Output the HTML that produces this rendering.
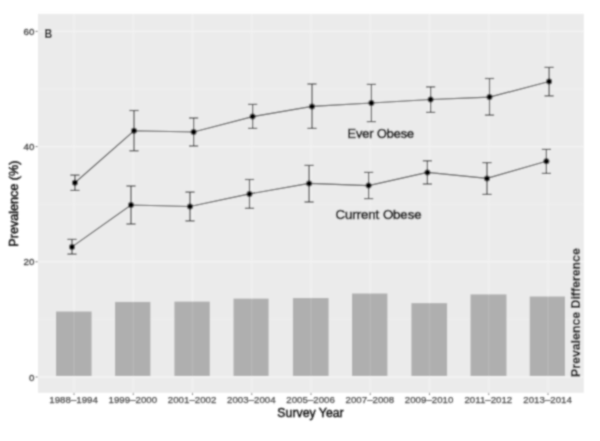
<!DOCTYPE html>
<html><head><meta charset="utf-8"><style>
html,body{margin:0;padding:0;background:#fff;width:600px;height:441px;overflow:hidden}
svg{display:block;font-family:"Liberation Sans",sans-serif}
</style></head><body>
<svg width="600" height="441" viewBox="0 0 600 441">
<defs><filter id="bl" x="-5%" y="-5%" width="110%" height="110%"><feConvolveMatrix order="5" kernelMatrix="0.00048 0.00501 0.01095 0.00501 0.00048 0.00501 0.05222 0.11405 0.05222 0.00501 0.01095 0.11405 0.24912 0.11405 0.01095 0.00501 0.05222 0.11405 0.05222 0.00501 0.00048 0.00501 0.01095 0.00501 0.00048" divisor="1" edgeMode="duplicate"/></filter></defs>
<rect width="600" height="441" fill="#fff"/>
<g filter="url(#bl)">
<rect x="38.0" y="13.9" width="545.8" height="378.90000000000003" fill="#EBEBEB"/>
<line x1="38.0" x2="583.8" y1="319.4" y2="319.4" stroke="#EFEFEF" stroke-width="1"/>
<line x1="38.0" x2="583.8" y1="204.2" y2="204.2" stroke="#EFEFEF" stroke-width="1"/>
<line x1="38.0" x2="583.8" y1="89.0" y2="89.0" stroke="#EFEFEF" stroke-width="1"/>
<line x1="38.0" x2="583.8" y1="377.0" y2="377.0" stroke="#F4F4F4" stroke-width="1.4"/>
<line x1="38.0" x2="583.8" y1="261.8" y2="261.8" stroke="#F4F4F4" stroke-width="1.4"/>
<line x1="38.0" x2="583.8" y1="146.6" y2="146.6" stroke="#F4F4F4" stroke-width="1.4"/>
<line x1="38.0" x2="583.8" y1="31.399999999999977" y2="31.399999999999977" stroke="#F4F4F4" stroke-width="1.4"/>
<line x1="74.0" x2="74.0" y1="13.9" y2="392.8" stroke="#F2F2F2" stroke-width="1.4"/>
<line x1="133.25" x2="133.25" y1="13.9" y2="392.8" stroke="#F2F2F2" stroke-width="1.4"/>
<line x1="192.5" x2="192.5" y1="13.9" y2="392.8" stroke="#F2F2F2" stroke-width="1.4"/>
<line x1="251.75" x2="251.75" y1="13.9" y2="392.8" stroke="#F2F2F2" stroke-width="1.4"/>
<line x1="311.0" x2="311.0" y1="13.9" y2="392.8" stroke="#F2F2F2" stroke-width="1.4"/>
<line x1="370.25" x2="370.25" y1="13.9" y2="392.8" stroke="#F2F2F2" stroke-width="1.4"/>
<line x1="429.5" x2="429.5" y1="13.9" y2="392.8" stroke="#F2F2F2" stroke-width="1.4"/>
<line x1="488.75" x2="488.75" y1="13.9" y2="392.8" stroke="#F2F2F2" stroke-width="1.4"/>
<line x1="548.0" x2="548.0" y1="13.9" y2="392.8" stroke="#F2F2F2" stroke-width="1.4"/>
<rect x="56" y="311.5" width="35.599999999999994" height="64.5" fill="#AFAFAF"/>
<rect x="115" y="301.9" width="35.400000000000006" height="74.10000000000002" fill="#AFAFAF"/>
<rect x="174.4" y="301.6" width="35.400000000000006" height="74.39999999999998" fill="#AFAFAF"/>
<rect x="233.5" y="298.6" width="35.10000000000002" height="77.39999999999998" fill="#AFAFAF"/>
<rect x="292.9" y="298" width="35.700000000000045" height="78" fill="#AFAFAF"/>
<rect x="352" y="293.5" width="35.39999999999998" height="82.5" fill="#AFAFAF"/>
<rect x="411.4" y="303.1" width="35.700000000000045" height="72.89999999999998" fill="#AFAFAF"/>
<rect x="470.5" y="294.4" width="36.0" height="81.60000000000002" fill="#AFAFAF"/>
<rect x="529.7" y="296.5" width="35.299999999999955" height="79.5" fill="#AFAFAF"/>
<line x1="74.0" x2="74.0" y1="290" y2="376" stroke="#FFFFFF" stroke-opacity="0.12" stroke-width="1.3"/>
<line x1="133.25" x2="133.25" y1="290" y2="376" stroke="#FFFFFF" stroke-opacity="0.12" stroke-width="1.3"/>
<line x1="192.5" x2="192.5" y1="290" y2="376" stroke="#FFFFFF" stroke-opacity="0.12" stroke-width="1.3"/>
<line x1="251.75" x2="251.75" y1="290" y2="376" stroke="#FFFFFF" stroke-opacity="0.12" stroke-width="1.3"/>
<line x1="311.0" x2="311.0" y1="290" y2="376" stroke="#FFFFFF" stroke-opacity="0.12" stroke-width="1.3"/>
<line x1="370.25" x2="370.25" y1="290" y2="376" stroke="#FFFFFF" stroke-opacity="0.12" stroke-width="1.3"/>
<line x1="429.5" x2="429.5" y1="290" y2="376" stroke="#FFFFFF" stroke-opacity="0.12" stroke-width="1.3"/>
<line x1="488.75" x2="488.75" y1="290" y2="376" stroke="#FFFFFF" stroke-opacity="0.12" stroke-width="1.3"/>
<line x1="548.0" x2="548.0" y1="290" y2="376" stroke="#FFFFFF" stroke-opacity="0.12" stroke-width="1.3"/>
<polyline points="74.9,182.7 134,130.8 193.6,132 252.6,116.6 312,106.4 371.4,103 430.6,99.5 489.5,97.1 549.1,81.5" fill="none" stroke="#474747" stroke-width="1.15"/>
<line x1="74.9" x2="74.9" y1="175.1" y2="190.4" stroke="#3A3A3A" stroke-width="1.15"/>
<line x1="70.30000000000001" x2="79.5" y1="175.1" y2="175.1" stroke="#3A3A3A" stroke-width="1.15"/>
<line x1="70.30000000000001" x2="79.5" y1="190.4" y2="190.4" stroke="#3A3A3A" stroke-width="1.15"/>
<line x1="134" x2="134" y1="110.5" y2="150.8" stroke="#3A3A3A" stroke-width="1.15"/>
<line x1="129.4" x2="138.6" y1="110.5" y2="110.5" stroke="#3A3A3A" stroke-width="1.15"/>
<line x1="129.4" x2="138.6" y1="150.8" y2="150.8" stroke="#3A3A3A" stroke-width="1.15"/>
<line x1="193.6" x2="193.6" y1="118" y2="146" stroke="#3A3A3A" stroke-width="1.15"/>
<line x1="189.0" x2="198.2" y1="118" y2="118" stroke="#3A3A3A" stroke-width="1.15"/>
<line x1="189.0" x2="198.2" y1="146" y2="146" stroke="#3A3A3A" stroke-width="1.15"/>
<line x1="252.6" x2="252.6" y1="104.4" y2="128.4" stroke="#3A3A3A" stroke-width="1.15"/>
<line x1="248.0" x2="257.2" y1="104.4" y2="104.4" stroke="#3A3A3A" stroke-width="1.15"/>
<line x1="248.0" x2="257.2" y1="128.4" y2="128.4" stroke="#3A3A3A" stroke-width="1.15"/>
<line x1="312" x2="312" y1="84" y2="128.4" stroke="#3A3A3A" stroke-width="1.15"/>
<line x1="307.4" x2="316.6" y1="84" y2="84" stroke="#3A3A3A" stroke-width="1.15"/>
<line x1="307.4" x2="316.6" y1="128.4" y2="128.4" stroke="#3A3A3A" stroke-width="1.15"/>
<line x1="371.4" x2="371.4" y1="84.4" y2="121.6" stroke="#3A3A3A" stroke-width="1.15"/>
<line x1="366.79999999999995" x2="376.0" y1="84.4" y2="84.4" stroke="#3A3A3A" stroke-width="1.15"/>
<line x1="366.79999999999995" x2="376.0" y1="121.6" y2="121.6" stroke="#3A3A3A" stroke-width="1.15"/>
<line x1="430.6" x2="430.6" y1="86.9" y2="112.4" stroke="#3A3A3A" stroke-width="1.15"/>
<line x1="426.0" x2="435.20000000000005" y1="86.9" y2="86.9" stroke="#3A3A3A" stroke-width="1.15"/>
<line x1="426.0" x2="435.20000000000005" y1="112.4" y2="112.4" stroke="#3A3A3A" stroke-width="1.15"/>
<line x1="489.5" x2="489.5" y1="78.5" y2="115.1" stroke="#3A3A3A" stroke-width="1.15"/>
<line x1="484.9" x2="494.1" y1="78.5" y2="78.5" stroke="#3A3A3A" stroke-width="1.15"/>
<line x1="484.9" x2="494.1" y1="115.1" y2="115.1" stroke="#3A3A3A" stroke-width="1.15"/>
<line x1="549.1" x2="549.1" y1="67.4" y2="95.9" stroke="#3A3A3A" stroke-width="1.15"/>
<line x1="544.5" x2="553.7" y1="67.4" y2="67.4" stroke="#3A3A3A" stroke-width="1.15"/>
<line x1="544.5" x2="553.7" y1="95.9" y2="95.9" stroke="#3A3A3A" stroke-width="1.15"/>
<circle cx="74.9" cy="182.7" r="3.0" fill="#000"/>
<circle cx="134" cy="130.8" r="3.0" fill="#000"/>
<circle cx="193.6" cy="132" r="3.0" fill="#000"/>
<circle cx="252.6" cy="116.6" r="3.0" fill="#000"/>
<circle cx="312" cy="106.4" r="3.0" fill="#000"/>
<circle cx="371.4" cy="103" r="3.0" fill="#000"/>
<circle cx="430.6" cy="99.5" r="3.0" fill="#000"/>
<circle cx="489.5" cy="97.1" r="3.0" fill="#000"/>
<circle cx="549.1" cy="81.5" r="3.0" fill="#000"/>
<polyline points="72,246.9 131,205 190,206.5 249.5,193.9 309.1,183.4 368.6,185.6 427.4,172.4 487,178.4 546.4,161.2" fill="none" stroke="#474747" stroke-width="1.15"/>
<line x1="72" x2="72" y1="239.4" y2="254.1" stroke="#3A3A3A" stroke-width="1.15"/>
<line x1="67.4" x2="76.6" y1="239.4" y2="239.4" stroke="#3A3A3A" stroke-width="1.15"/>
<line x1="67.4" x2="76.6" y1="254.1" y2="254.1" stroke="#3A3A3A" stroke-width="1.15"/>
<line x1="131" x2="131" y1="186" y2="224" stroke="#3A3A3A" stroke-width="1.15"/>
<line x1="126.4" x2="135.6" y1="186" y2="186" stroke="#3A3A3A" stroke-width="1.15"/>
<line x1="126.4" x2="135.6" y1="224" y2="224" stroke="#3A3A3A" stroke-width="1.15"/>
<line x1="190" x2="190" y1="192.1" y2="220.9" stroke="#3A3A3A" stroke-width="1.15"/>
<line x1="185.4" x2="194.6" y1="192.1" y2="192.1" stroke="#3A3A3A" stroke-width="1.15"/>
<line x1="185.4" x2="194.6" y1="220.9" y2="220.9" stroke="#3A3A3A" stroke-width="1.15"/>
<line x1="249.5" x2="249.5" y1="179.5" y2="208.3" stroke="#3A3A3A" stroke-width="1.15"/>
<line x1="244.9" x2="254.1" y1="179.5" y2="179.5" stroke="#3A3A3A" stroke-width="1.15"/>
<line x1="244.9" x2="254.1" y1="208.3" y2="208.3" stroke="#3A3A3A" stroke-width="1.15"/>
<line x1="309.1" x2="309.1" y1="165.4" y2="202" stroke="#3A3A3A" stroke-width="1.15"/>
<line x1="304.5" x2="313.70000000000005" y1="165.4" y2="165.4" stroke="#3A3A3A" stroke-width="1.15"/>
<line x1="304.5" x2="313.70000000000005" y1="202" y2="202" stroke="#3A3A3A" stroke-width="1.15"/>
<line x1="368.6" x2="368.6" y1="172.4" y2="198.6" stroke="#3A3A3A" stroke-width="1.15"/>
<line x1="364.0" x2="373.20000000000005" y1="172.4" y2="172.4" stroke="#3A3A3A" stroke-width="1.15"/>
<line x1="364.0" x2="373.20000000000005" y1="198.6" y2="198.6" stroke="#3A3A3A" stroke-width="1.15"/>
<line x1="427.4" x2="427.4" y1="160.8" y2="184" stroke="#3A3A3A" stroke-width="1.15"/>
<line x1="422.79999999999995" x2="432.0" y1="160.8" y2="160.8" stroke="#3A3A3A" stroke-width="1.15"/>
<line x1="422.79999999999995" x2="432.0" y1="184" y2="184" stroke="#3A3A3A" stroke-width="1.15"/>
<line x1="487" x2="487" y1="162.6" y2="194.4" stroke="#3A3A3A" stroke-width="1.15"/>
<line x1="482.4" x2="491.6" y1="162.6" y2="162.6" stroke="#3A3A3A" stroke-width="1.15"/>
<line x1="482.4" x2="491.6" y1="194.4" y2="194.4" stroke="#3A3A3A" stroke-width="1.15"/>
<line x1="546.4" x2="546.4" y1="149.4" y2="173.4" stroke="#3A3A3A" stroke-width="1.15"/>
<line x1="541.8" x2="551.0" y1="149.4" y2="149.4" stroke="#3A3A3A" stroke-width="1.15"/>
<line x1="541.8" x2="551.0" y1="173.4" y2="173.4" stroke="#3A3A3A" stroke-width="1.15"/>
<circle cx="72" cy="246.9" r="3.0" fill="#000"/>
<circle cx="131" cy="205" r="3.0" fill="#000"/>
<circle cx="190" cy="206.5" r="3.0" fill="#000"/>
<circle cx="249.5" cy="193.9" r="3.0" fill="#000"/>
<circle cx="309.1" cy="183.4" r="3.0" fill="#000"/>
<circle cx="368.6" cy="185.6" r="3.0" fill="#000"/>
<circle cx="427.4" cy="172.4" r="3.0" fill="#000"/>
<circle cx="487" cy="178.4" r="3.0" fill="#000"/>
<circle cx="546.4" cy="161.2" r="3.0" fill="#000"/>
<line x1="35.5" x2="38" y1="377.0" y2="377.0" stroke="#555" stroke-width="0.8"/>
<text x="34.4" y="380.5" text-anchor="end" font-size="9.7" fill="#404040" stroke="#404040" stroke-width="0.3">0</text>
<line x1="35.5" x2="38" y1="261.8" y2="261.8" stroke="#555" stroke-width="0.8"/>
<text x="34.4" y="265.3" text-anchor="end" font-size="9.7" fill="#404040" stroke="#404040" stroke-width="0.3">20</text>
<line x1="35.5" x2="38" y1="146.6" y2="146.6" stroke="#555" stroke-width="0.8"/>
<text x="34.4" y="150.1" text-anchor="end" font-size="9.7" fill="#404040" stroke="#404040" stroke-width="0.3">40</text>
<line x1="35.5" x2="38" y1="31.399999999999977" y2="31.399999999999977" stroke="#555" stroke-width="0.8"/>
<text x="34.4" y="34.89999999999998" text-anchor="end" font-size="9.7" fill="#404040" stroke="#404040" stroke-width="0.3">60</text>
<line x1="74.0" x2="74.0" y1="392.8" y2="395" stroke="#555" stroke-width="0.8"/>
<text x="73.6" y="403.1" text-anchor="middle" font-size="9.7" fill="#4A4A4A" stroke="#4A4A4A" stroke-width="0.25">1988–1994</text>
<line x1="133.25" x2="133.25" y1="392.8" y2="395" stroke="#555" stroke-width="0.8"/>
<text x="132.85" y="403.1" text-anchor="middle" font-size="9.7" fill="#4A4A4A" stroke="#4A4A4A" stroke-width="0.25">1999–2000</text>
<line x1="192.5" x2="192.5" y1="392.8" y2="395" stroke="#555" stroke-width="0.8"/>
<text x="192.1" y="403.1" text-anchor="middle" font-size="9.7" fill="#4A4A4A" stroke="#4A4A4A" stroke-width="0.25">2001–2002</text>
<line x1="251.75" x2="251.75" y1="392.8" y2="395" stroke="#555" stroke-width="0.8"/>
<text x="251.35" y="403.1" text-anchor="middle" font-size="9.7" fill="#4A4A4A" stroke="#4A4A4A" stroke-width="0.25">2003–2004</text>
<line x1="311.0" x2="311.0" y1="392.8" y2="395" stroke="#555" stroke-width="0.8"/>
<text x="310.6" y="403.1" text-anchor="middle" font-size="9.7" fill="#4A4A4A" stroke="#4A4A4A" stroke-width="0.25">2005–2006</text>
<line x1="370.25" x2="370.25" y1="392.8" y2="395" stroke="#555" stroke-width="0.8"/>
<text x="369.85" y="403.1" text-anchor="middle" font-size="9.7" fill="#4A4A4A" stroke="#4A4A4A" stroke-width="0.25">2007–2008</text>
<line x1="429.5" x2="429.5" y1="392.8" y2="395" stroke="#555" stroke-width="0.8"/>
<text x="429.1" y="403.1" text-anchor="middle" font-size="9.7" fill="#4A4A4A" stroke="#4A4A4A" stroke-width="0.25">2009–2010</text>
<line x1="488.75" x2="488.75" y1="392.8" y2="395" stroke="#555" stroke-width="0.8"/>
<text x="488.35" y="403.1" text-anchor="middle" font-size="9.7" fill="#4A4A4A" stroke="#4A4A4A" stroke-width="0.25">2011–2012</text>
<line x1="548.0" x2="548.0" y1="392.8" y2="395" stroke="#555" stroke-width="0.8"/>
<text x="547.6" y="403.1" text-anchor="middle" font-size="9.7" fill="#4A4A4A" stroke="#4A4A4A" stroke-width="0.25">2013–2014</text>
<text x="310.5" y="416.7" text-anchor="middle" font-size="12.3" fill="#151515" stroke="#151515" stroke-width="0.45">Survey Year</text>
<text transform="translate(18.3,203.6) rotate(-90)" text-anchor="middle" font-size="12.6" fill="#151515" stroke="#151515" stroke-width="0.45">Prevalence (%)</text>
<text transform="translate(44.6,38.2) scale(0.86,1)" font-size="12.4" font-weight="bold" fill="#151515" stroke="#151515" stroke-width="0.1">B</text>
<text x="347.6" y="138" font-size="12.6" fill="#1A1A1A" stroke="#1A1A1A" stroke-width="0.65">Ever Obese</text>
<text x="335.6" y="219.2" font-size="13.1" fill="#1A1A1A" stroke="#1A1A1A" stroke-width="0.65">Current Obese</text>
<text transform="translate(579.8,312.6) rotate(-90) scale(0.92,1)" text-anchor="middle" font-size="13.4" font-weight="bold" fill="#141414" stroke="#141414" stroke-width="0.2">Prevalence Difference</text>
</g>
</svg>
</body></html>
